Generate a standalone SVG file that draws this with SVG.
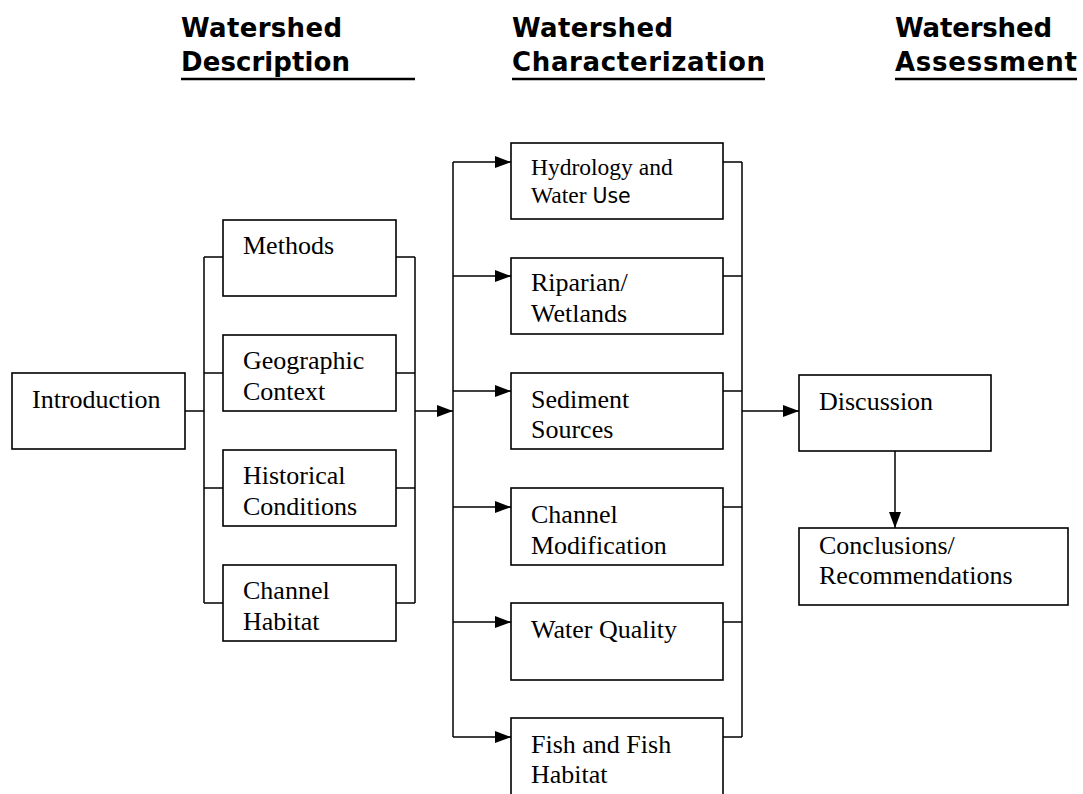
<svg xmlns="http://www.w3.org/2000/svg" width="1083" height="794" viewBox="0 0 1083 794">
<style>
.box{fill:#fff;stroke:#000;stroke-width:1.6}
.ln{fill:none;stroke:#000;stroke-width:1.5}
.t{font-family:"Liberation Serif","Times New Roman",serif;font-size:26px;fill:#000}
.ts{font-family:"Liberation Serif","Times New Roman",serif;font-size:23.5px;fill:#000}
.h{font-family:"DejaVu Sans",Verdana,sans-serif;font-weight:bold;font-size:26px;fill:#000}
.ul{stroke:#000;stroke-width:2.6}
</style>
<defs>
<marker id="ah" markerUnits="userSpaceOnUse" markerWidth="17" markerHeight="13" refX="16" refY="6" orient="auto">
<path d="M0,0 L16,6 L0,12 Z" fill="#000"/>
</marker>
</defs>
<rect width="1083" height="794" fill="#fff"/>
<g id="headers">
<text class="h" x="181" y="37" textLength="161">Watershed</text>
<text class="h" x="181" y="71" textLength="169">Description</text>
<line class="ul" x1="181" y1="79" x2="415" y2="79"/>
<text class="h" x="512" y="37" textLength="161">Watershed</text>
<text class="h" x="512" y="71" textLength="253">Characterization</text>
<line class="ul" x1="512" y1="79" x2="765" y2="79"/>
<text class="h" x="895" y="37" textLength="157">Watershed</text>
<text class="h" x="895" y="71" textLength="182">Assessment</text>
<line class="ul" x1="895" y1="79" x2="1077" y2="79"/>
</g>
<g id="connectors">
<path class="ln" d="M185,411 H204 M204,257 V603 M204,257 H223 M204,373 H223 M204,488 H223 M204,603 H223"/>
<path class="ln" d="M396,257 H415 M396,373 H415 M396,488 H415 M396,603 H415 M415,257 V603"/>
<line class="ln" x1="415" y1="411" x2="453" y2="411" marker-end="url(#ah)"/>
<path class="ln" d="M453,162 V737"/>
<line class="ln" x1="453" y1="162" x2="511" y2="162" marker-end="url(#ah)"/>
<line class="ln" x1="453" y1="276" x2="511" y2="276" marker-end="url(#ah)"/>
<line class="ln" x1="453" y1="391" x2="511" y2="391" marker-end="url(#ah)"/>
<line class="ln" x1="453" y1="507" x2="511" y2="507" marker-end="url(#ah)"/>
<line class="ln" x1="453" y1="622" x2="511" y2="622" marker-end="url(#ah)"/>
<line class="ln" x1="453" y1="737" x2="511" y2="737" marker-end="url(#ah)"/>
<path class="ln" d="M723,162 H742 M723,276 H742 M723,391 H742 M723,507 H742 M723,622 H742 M723,737 H742 M742,162 V737"/>
<line class="ln" x1="742" y1="411" x2="799" y2="411" marker-end="url(#ah)"/>
<line class="ln" x1="895" y1="451" x2="895" y2="528" marker-end="url(#ah)"/>
</g>
<g id="introduction"><rect class="box" x="12" y="373" width="173" height="76"/><text class="t" x="32" y="408">Introduction</text></g>
<g id="methods"><rect class="box" x="223" y="220" width="173" height="76"/><text class="t" x="243" y="254">Methods</text></g>
<g id="geographic"><rect class="box" x="223" y="335" width="173" height="76"/><text class="t" x="243" y="369">Geographic</text><text class="t" x="243" y="400">Context</text></g>
<g id="historical"><rect class="box" x="223" y="450" width="173" height="76"/><text class="t" x="243" y="484">Historical</text><text class="t" x="243" y="515">Conditions</text></g>
<g id="channel-habitat"><rect class="box" x="223" y="565" width="173" height="76"/><text class="t" x="243" y="599">Channel</text><text class="t" x="243" y="630">Habitat</text></g>
<g id="hydrology"><rect class="box" x="511" y="143" width="212" height="76"/><text class="ts" x="531" y="175">Hydrology and</text><text class="ts" x="531" y="203">Water <tspan font-family="DejaVu Sans,Verdana,sans-serif" font-size="20.5px">Use</tspan></text></g>
<g id="riparian"><rect class="box" x="511" y="258" width="212" height="76"/><text class="t" x="531" y="291">Riparian/</text><text class="t" x="531" y="322">Wetlands</text></g>
<g id="sediment"><rect class="box" x="511" y="373" width="212" height="76"/><text class="t" x="531" y="408">Sediment</text><text class="t" x="531" y="438">Sources</text></g>
<g id="channel-mod"><rect class="box" x="511" y="488" width="212" height="77"/><text class="t" x="531" y="523">Channel</text><text class="t" x="531" y="554">Modification</text></g>
<g id="water-quality"><rect class="box" x="511" y="603" width="212" height="77"/><text class="t" x="531" y="638">Water Quality</text></g>
<g id="fish"><rect class="box" x="511" y="718" width="212" height="78"/><text class="t" x="531" y="753">Fish and Fish</text><text class="t" x="531" y="783">Habitat</text></g>
<g id="discussion"><rect class="box" x="799" y="375" width="192" height="76"/><text class="t" x="819" y="410">Discussion</text></g>
<g id="conclusions"><rect class="box" x="799" y="528" width="269" height="77"/><text class="t" x="819" y="554">Conclusions/</text><text class="t" x="819" y="584">Recommendations</text></g>
</svg>
